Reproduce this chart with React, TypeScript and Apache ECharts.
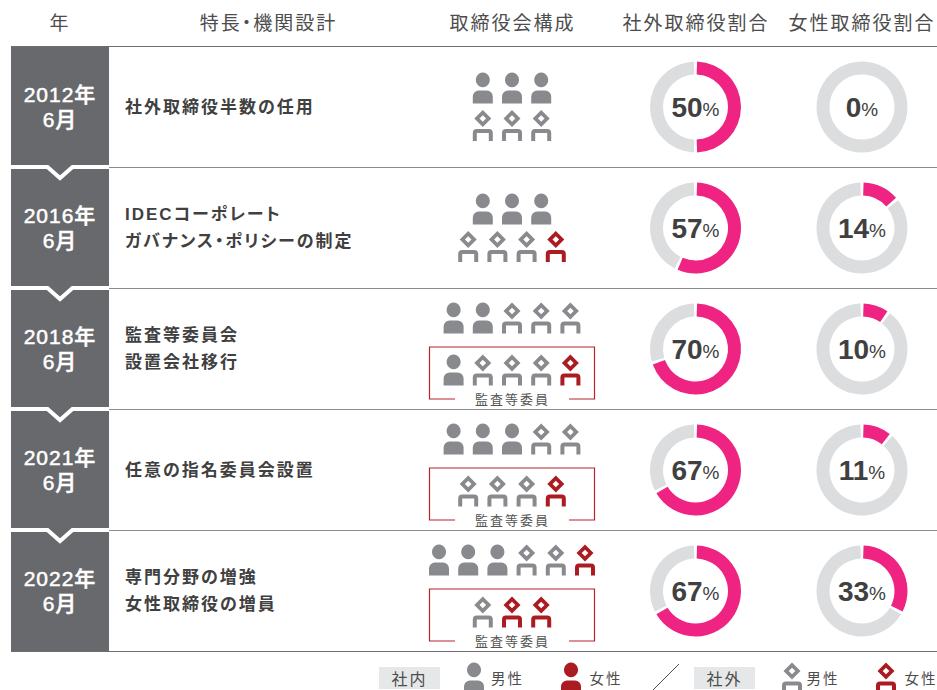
import React, { useEffect, useRef } from "react";
import * as echarts from "echarts";

const headers = ["年", "特長・機関設計", "取締役会構成", "社外取締役割合", "女性取締役割合"];
const years = ["2012年", "2016年", "2018年", "2021年", "2022年"];
const months = ["6月", "6月", "6月", "6月", "6月"];
const features = [
  ["社外取締役半数の任用"],
  ["IDECコーポレート", "ガバナンス・ポリシーの制定"],
  ["監査等委員会", "設置会社移行"],
  ["任意の指名委員会設置"],
  ["専門分野の増強", "女性取締役の増員"],
];
// p = inside male, q = inside female, d = outside male, f = outside female
const boardUpper = ["ppp", "ppp", "ppddd", "pppdd", "pppddf"];
const boardLower = ["ddd", "dddf", "pdddf", "dddf", "dff"];
const auditBox = [false, false, true, true, true];
const outsideRatio = [50, 57, 70, 67, 67];
const femaleRatio = [0, 14, 10, 11, 33];
const committee = "監査等委員";

const PINK = "#ee2382";
const RING = "#dcddde";
const GREY = "#898a8e";
const RED = "#ab1c22";
const DARK = "#68696d";
const INK = "#404040";
const JP = '"Noto Sans CJK JP"';

const personPath =
  "M10 0a7 7.4 0 1 0 .01 0ZM6 18H14A6 6 0 0 1 20 24V31H0V24A6 6 0 0 1 6 18Z";
const outsiderPath =
  "M10 0L18.5 8.5L10 17L1.5 8.5ZM10 5.2L6.7 8.5L10 11.8L13.3 8.5ZM4 19H16A4 4 0 0 1 20 23V31H16V23H4V31H0V23A4 4 0 0 1 4 19Z";
const symbolOf: Record<string, string> = {
  p: "path://" + personPath,
  q: "path://" + personPath,
  d: "path://" + outsiderPath,
  f: "path://" + outsiderPath,
};
const colorOf: Record<string, string> = { p: GREY, q: RED, d: GREY, f: RED };

const ROW_TOP = 46;
const ROW_H = 121;
const css = `text[style*="CJK JP"]{letter-spacing:2px;font-feature-settings:"palt"}
text[style*="CJK SC"]{letter-spacing:1px}`;

function iconRow(codes: string, y: number) {
  const step = 29.2;
  const x0 = 512 - ((codes.length - 1) * step) / 2;
  return codes.split("").map((c, i) => ({
    value: [x0 + i * step, y],
    symbol: symbolOf[c],
    itemStyle: { color: colorOf[c], opacity: 1 },
  }));
}

function donut(value: number, cx: number, cy: number) {
  const label = {
    show: true,
    position: "center",
    formatter: `{n|${value}}{u|%}`,
    rich: {
      n: { fontFamily: '"Liberation Sans"', fontWeight: "bold", fontSize: 28, color: INK },
      u: { fontFamily: '"Liberation Sans"', fontSize: 19, color: INK, padding: [4, 0, 0, 0] },
    },
  };
  const parts = value > 0
    ? [
        { value, itemStyle: { color: PINK }, label },
        { value: 100 - value, itemStyle: { color: RING }, label: { show: false } },
      ]
    : [{ value: 100, itemStyle: { color: RING }, label }];
  return {
    type: "pie",
    silent: true,
    center: [cx, cy],
    radius: [32.5, 45.5],
    startAngle: 90,
    clockwise: true,
    padAngle: value > 0 ? 4 : 0,
    labelLine: { show: false },
    data: parts,
  };
}

function txt(text: string, x: number, y: number, fontSize: number, fill: string, extra: any = {}) {
  return {
    type: "text",
    x,
    y,
    z: 10,
    silent: true,
    style: {
      text,
      fontSize,
      fill,
      fontFamily: JP,
      align: "center",
      verticalAlign: "middle",
      ...extra,
    },
  };
}

export default function App() {
  const ref = useRef<HTMLDivElement>(null);
  useEffect(() => {
    document.body.style.margin = "0";
    const chart = echarts.init(ref.current!, undefined, { renderer: "svg" });
    const graphic: any[] = [];

    headers.forEach((h, i) => {
      graphic.push(txt(h, [60, 268.5, 512.5, 696, 862][i], 21.5, 19, "#4d4d4d"));
    });

    graphic.push({
      type: "rect",
      shape: { x: 11, y: ROW_TOP, width: 98, height: ROW_H * 5 },
      style: { fill: DARK },
    });
    for (let i = 0; i <= 5; i++) {
      const y = ROW_TOP + i * ROW_H;
      const edge = i === 0 || i === 5;
      graphic.push({
        type: "line",
        shape: { x1: edge ? 11 : 109, y1: y + 0.5, x2: 937, y2: y + 0.5 },
        style: { stroke: edge ? "#6d6e71" : "#8a8b8e", lineWidth: 1 },
      });
      if (i > 0 && i < 5) {
        graphic.push({
          type: "polyline",
          shape: { points: [[11, y], [47.5, y], [60, y + 11], [72.5, y], [109, y]] },
          style: { stroke: "#fff", lineWidth: 4, fill: "none" },
        });
      }
    }

    years.forEach((year, i) => {
      const top = ROW_TOP + i * ROW_H;
      const white = {
        fontFamily: '"Liberation Sans","Noto Sans CJK SC"',
        fontWeight: 500,
        stroke: "#fff",
        lineWidth: 0.5,
      };
      graphic.push(txt(year, 60, top + 48, 21, "#fff", white));
      graphic.push(txt(months[i], 60, top + 73, 21, "#fff", white));
      const lines = features[i];
      lines.forEach((line, k) => {
        const y = top + 61 + (k - (lines.length - 1) / 2) * 27.5;
        graphic.push(
          txt(line, 125, y, 17, INK, {
            align: "left",
            fontWeight: "bold",
            fontFamily: `"Liberation Sans",${JP}`,
          })
        );
      });
      if (auditBox[i]) {
        graphic.push({
          type: "polyline",
          shape: {
            points: [
              [455, top + 111],
              [429.5, top + 111],
              [429.5, top + 59],
              [594.5, top + 59],
              [594.5, top + 111],
              [569, top + 111],
            ],
          },
          style: { stroke: "#b6252c", lineWidth: 1.2, fill: "none" },
        });
        graphic.push(txt(committee, 512.5, top + 110, 13, "#555"));
      }
    });

    // Legend
    const tag = (label: string, x: number) => {
      graphic.push({
        type: "rect",
        shape: { x, y: 667, width: 61, height: 22 },
        style: { fill: "#e6e7e8" },
      });
      graphic.push(txt(label, x + 30.5, 677.5, 16, "#4d4d4d"));
    };
    tag("社内", 379);
    tag("社外", 694);
    graphic.push(txt("男性", 507.5, 677.5, 14.5, "#4d4d4d"));
    graphic.push(txt("女性", 606, 677.5, 14.5, "#4d4d4d"));
    graphic.push(txt("男性", 823, 677.5, 14.5, "#4d4d4d"));
    graphic.push(txt("女性", 921, 677.5, 14.5, "#4d4d4d"));
    graphic.push({
      type: "line",
      shape: { x1: 653, y1: 690, x2: 679, y2: 664 },
      style: { stroke: "#4d4d4d", lineWidth: 1 },
    });

    const icons: any[] = [];
    boardUpper.forEach((codes, i) => {
      const top = ROW_TOP + i * ROW_H;
      const [a, b] = auditBox[i] ? [30, 82] : [42, 79.5];
      icons.push(...iconRow(codes, top + a), ...iconRow(boardLower[i], top + b));
    });
    const legendIcons = [
      ["p", 474],
      ["q", 571],
      ["d", 792],
      ["f", 886],
    ].map(([c, x]) => ({
      value: [x, 678],
      symbol: symbolOf[c as string],
      itemStyle: { color: colorOf[c as string], opacity: 1 },
    }));

    const pies: any[] = [];
    outsideRatio.forEach((v, i) => pies.push(donut(v, 695.5, ROW_TOP + i * ROW_H + 61)));
    femaleRatio.forEach((v, i) => pies.push(donut(v, 862, ROW_TOP + i * ROW_H + 61)));

    chart.setOption({
      animation: false,
      grid: { left: 0, right: 0, top: 0, bottom: 0 },
      xAxis: { type: "value", min: 0, max: 937, show: false },
      yAxis: { type: "value", min: 0, max: 690, inverse: true, show: false },
      graphic,
      series: [
        ...pies,
        {
          type: "scatter",
          silent: true,
          clip: false,
          symbolSize: [20, 31],
          data: [...icons, ...legendIcons],
        },
      ],
    });
    return () => chart.dispose();
  }, []);
  return (
    <>
      <style>{css}</style>
      <div
        ref={ref}
        style={{ position: "absolute", left: 0, top: 0, width: 937, height: 690, background: "#fff" }}
      />
    </>
  );
}
